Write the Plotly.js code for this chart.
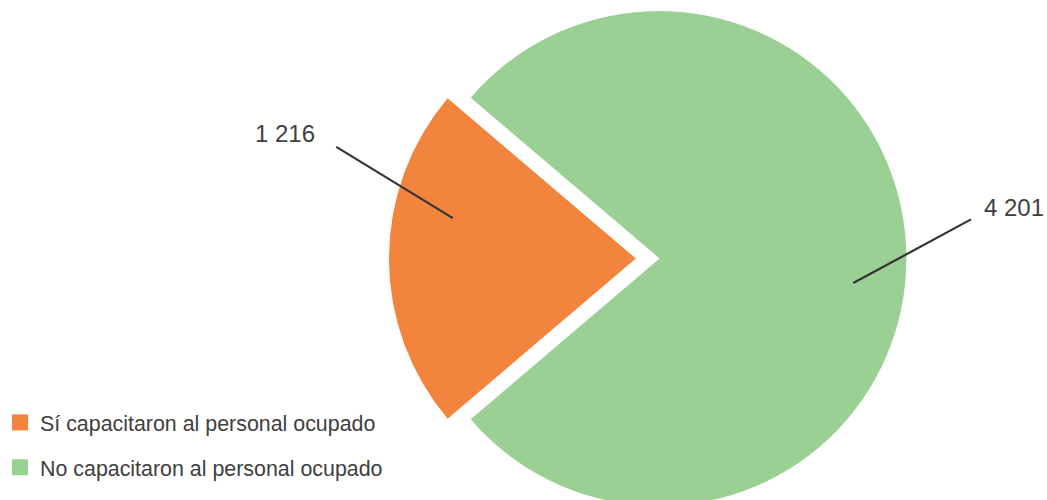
<!DOCTYPE html>
<html>
<head>
<meta charset="utf-8">
<script src="https://cdn.plot.ly/plotly-3.0.1.min.js"></script>
<style>
  html, body { margin: 0; padding: 0; width: 1047px; height: 500px; overflow: hidden; background: #fff; }
  #chart { position: absolute; left: 0; top: -12px; width: 1047px; height: 541px; }
</style>
</head>
<body>
<div id="chart"></div>
<script>
// ---- data ----
const categories = ["Sí capacitaron al personal ocupado", "No capacitaron al personal ocupado"];
const values = [1216, 4201];
const colors = ["#f3843e", "#9bd095"];

// ---- layout / style parameters ----
const W = 1047, H = 541, TOP = -12;          // figure size and page offset of the div
const domX = [0.2588, 1], domY = [0, 1];
const pulls = [0.091, 0];
const FONT = "Liberation Sans, Arial, Helvetica, sans-serif";
const TEXT_COLOR = "#404040";
const LINE_COLOR = "#333333";
// label geometry per slice: angle offset (deg) from slice mid-angle, radial fraction,
// connector vector (px) and text offset (px) from connector start
const labelStyle = [
  { dAng: 12.4, k: 0.758, line: [-116.6, -71.3], text: [-51.7, -13] },
  { dAng: 7.2,  k: 0.79,  line: [117.7, -63.7],  text: [43, -12] }
];

const fmt = v => String(v).replace(/\B(?=(\d{3})+(?!\d))/g, " ");

// geometry derived from data and the pie domain (mirrors Plotly's pie layout)
const total = values.reduce((a, b) => a + b, 0);
const frac = values.map(v => v / total);
let rot = 270 - frac[0] * 180;            // centre first slice at 9 o'clock
if (rot > 180) rot -= 360;
const maxPull = Math.max(...pulls);
const cx = W * (domX[0] + domX[1]) / 2;
const cy = H * (1 - (domY[0] + domY[1]) / 2) + TOP;
const r = Math.min(W * (domX[1] - domX[0]), H * (domY[1] - domY[0])) / (2 + 2 * maxPull);

const toPX = x => x / W;
const toPY = y => 1 - (y - TOP) / H;
const rad = d => d * Math.PI / 180;

const shapes = [], annotations = [];
let start = rot;
values.forEach((v, i) => {
  const mid = start + frac[i] * 180;
  start += frac[i] * 360;
  const ox = cx + Math.sin(rad(mid)) * pulls[i] * r;
  const oy = cy - Math.cos(rad(mid)) * pulls[i] * r;
  const s = labelStyle[i];
  const a = mid + s.dAng;
  const ax = ox + Math.sin(rad(a)) * s.k * r;
  const ay = oy - Math.cos(rad(a)) * s.k * r;
  const sx = ax + s.line[0], sy = ay + s.line[1];
  const tx = sx + s.text[0], ty = sy + s.text[1];
  shapes.push({
    type: "line", xref: "paper", yref: "paper",
    x0: toPX(sx), y0: toPY(sy), x1: toPX(ax), y1: toPY(ay),
    line: { color: LINE_COLOR, width: 2.2 }
  });
  annotations.push({
    xref: "paper", yref: "paper", x: toPX(tx), y: toPY(ty),
    xanchor: "center", yanchor: "middle", showarrow: false,
    text: fmt(v), font: { family: FONT, size: 24, color: TEXT_COLOR }
  });
});

const pie = {
  type: "pie",
  labels: categories,
  values: values,
  sort: false,
  direction: "clockwise",
  rotation: rot,
  pull: pulls,
  domain: { x: domX, y: domY },
  marker: { colors: colors, line: { color: "#ffffff", width: 1 } },
  textinfo: "none",
  hoverinfo: "label+value",
  showlegend: false
};

// legend entries (one per category)
const legendTraces = categories.map((c, i) => ({
  type: "scatter", mode: "markers", x: [null], y: [null],
  name: c, legendgroup: "g" + i, showlegend: true,
  marker: { symbol: "square", size: 16, color: colors[i], line: { width: 0 } },
  hoverinfo: "skip"
}));

const layout = {
  width: W, height: H,
  margin: { l: 0, r: 0, t: 0, b: 0 },
  paper_bgcolor: "#ffffff", plot_bgcolor: "rgba(0,0,0,0)",
  font: { family: FONT, color: TEXT_COLOR },
  xaxis: { visible: false }, yaxis: { visible: false },
  showlegend: true,
  legend: {
    x: 0, xanchor: "left", y: toPY(402), yanchor: "top",
    orientation: "v", traceorder: "grouped", tracegroupgap: 14,
    font: { family: FONT, size: 21.4, color: TEXT_COLOR },
    bgcolor: "rgba(0,0,0,0)", borderwidth: 0
  },
  shapes: shapes,
  annotations: annotations
};

Plotly.newPlot("chart", [pie, ...legendTraces], layout, { displayModeBar: false, staticPlot: true });
</script>
</body>
</html>
